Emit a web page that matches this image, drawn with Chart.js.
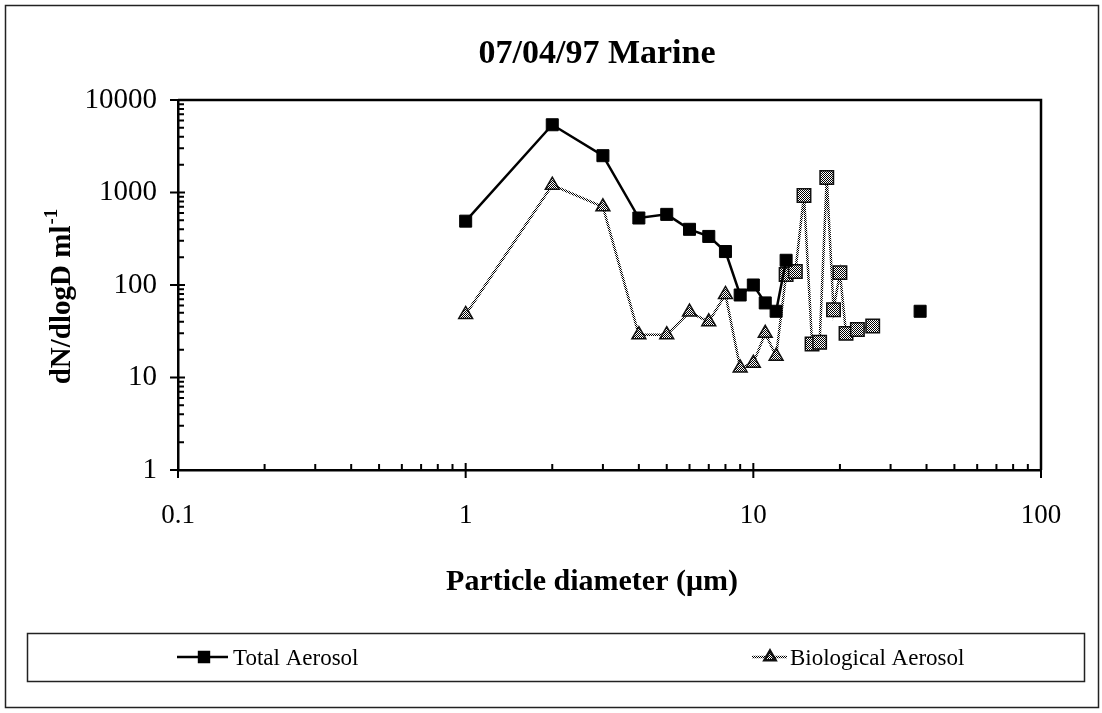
<!DOCTYPE html>
<html>
<head>
<meta charset="utf-8">
<script src="https://cdn.jsdelivr.net/npm/chart.js@4.4.0/dist/chart.umd.min.js"></script>
<style>
  html, body { margin: 0; padding: 0; background: #fff; }
  #wrap { width: 1102px; height: 713px; position: relative; }
</style>
</head>
<body>
<div id="wrap"><canvas id="chart" width="1102" height="713"></canvas></div>
<script>
// Data
const chartTitle = '07/04/97 Marine';
const xTitle = 'Particle diameter (\u03bcm)';
const yTitle = 'dN/dlogD ml';
const yTitleSup = '-1';

const totalDiam = [1, 2, 3, 4, 5, 6, 7, 8, 9, 10, 11, 12, 13, 38];
const totalConc = [490, 5400, 2500, 530, 580, 400, 335, 230, 78, 100, 64, 52, 185, 52];

const bioDiam = [1, 2, 3, 4, 5, 6, 7, 8, 9, 10, 11, 12, 13, 14, 15, 16, 17, 18, 19, 20, 21, 23, 26];
const bioConc = [48, 1200, 700, 29, 29, 51, 40, 79, 12.7, 14.3, 30, 17, 130, 140, 930, 23, 24, 1450, 54, 136, 30, 33, 36];

const xTickLabels = [0.1, 1, 10, 100];
const yTickLabels = [1, 10, 100, 1000, 10000];

const serif = "'Liberation Serif', 'Times New Roman', serif";

// 1px checker used for the grey hatched markers and the dotted line
function makePattern() {
    const c = document.createElement('canvas');
    c.width = 2; c.height = 2;
    const g = c.getContext('2d');
    g.fillStyle = '#fff';
    g.fillRect(0, 0, 2, 2);
    g.fillStyle = '#000';
    g.fillRect(0, 0, 1, 1);
    g.fillRect(1, 1, 1, 1);
    return g.createPattern(c, 'repeat');
}
const hatch = makePattern();

// log ticks 1..9 per decade
function decadeTicks(min, max) {
    const ticks = [];
    for (let e = Math.round(Math.log10(min)); e < Math.round(Math.log10(max)); e++) {
        for (let m = 1; m <= 9; m++) {
            ticks.push({ value: Number((m * Math.pow(10, e)).toPrecision(3)) });
        }
    }
    ticks.push({ value: max });
    return ticks;
}
function isDecade(v) {
    const l = Math.log10(v);
    return Math.abs(l - Math.round(l)) < 1e-9;
}

const frame = {
    id: 'frame',
    afterDraw(chart) {
        const ctx = chart.ctx;
        const a = chart.chartArea;
        const xs = chart.scales.x, ys = chart.scales.y;
        ctx.save();

        // outer frame
        ctx.strokeStyle = '#222';
        ctx.lineWidth = 1.5;
        ctx.strokeRect(5.5, 5.5, 1093, 702);

        // plot box top + right
        ctx.strokeStyle = '#000';
        ctx.lineWidth = 2.5;
        ctx.beginPath();
        ctx.moveTo(a.left, a.top);
        ctx.lineTo(a.right, a.top);
        ctx.lineTo(a.right, a.bottom);
        ctx.stroke();

        // tick marks: majors cross the axis, minors point inward
        ctx.lineWidth = 2;
        ctx.beginPath();
        xs.ticks.forEach(t => {
            const px = xs.getPixelForValue(t.value);
            if (isDecade(t.value)) {
                ctx.moveTo(px, a.bottom - 7);
                ctx.lineTo(px, a.bottom + 8);
            } else {
                ctx.moveTo(px, a.bottom);
                ctx.lineTo(px, a.bottom - 6);
            }
        });
        ys.ticks.forEach(t => {
            const py = ys.getPixelForValue(t.value);
            if (isDecade(t.value)) {
                ctx.moveTo(a.left - 8, py);
                ctx.lineTo(a.left + 7, py);
            } else {
                ctx.moveTo(a.left, py);
                ctx.lineTo(a.left + 6, py);
            }
        });
        ctx.stroke();

        // titles
        ctx.fillStyle = '#000';
        ctx.textAlign = 'center';
        ctx.textBaseline = 'alphabetic';
        ctx.font = 'bold 34px ' + serif;
        ctx.fillText(chartTitle, 597, 63);
        ctx.font = 'bold 30px ' + serif;
        ctx.fillText(xTitle, 592, 590);

        // y title, rotated, with superscript
        ctx.save();
        ctx.translate(70, 297);
        ctx.rotate(-Math.PI / 2);
        ctx.textAlign = 'left';
        ctx.font = 'bold 29px ' + serif;
        const w1 = ctx.measureText(yTitle).width;
        ctx.font = 'bold 19px ' + serif;
        const w2 = ctx.measureText(yTitleSup).width;
        const x0 = -(w1 + w2) / 2;
        ctx.font = 'bold 29px ' + serif;
        ctx.fillText(yTitle, x0, 0);
        ctx.font = 'bold 19px ' + serif;
        ctx.fillText(yTitleSup, x0 + w1 + 1, -13);
        ctx.restore();

        // legend box
        ctx.strokeStyle = '#222';
        ctx.lineWidth = 1.5;
        ctx.strokeRect(27.5, 633.5, 1057, 48);
        const ly = 657;
        const items = [
            { ds: chart.data.datasets[0], x1: 177, x2: 228, mx: 204, tx: 233 },
            { ds: chart.data.datasets[1], x1: 752, x2: 787, mx: 770, tx: 790 }
        ];
        items.forEach(it => {
            const ds = it.ds;
            ctx.strokeStyle = ds.borderColor;
            ctx.lineWidth = ds.borderWidth;
            ctx.beginPath();
            ctx.moveTo(it.x1, ly);
            ctx.lineTo(it.x2, ly);
            ctx.stroke();
            ctx.fillStyle = ds.pointBackgroundColor;
            ctx.strokeStyle = ds.pointBorderColor;
            Chart.helpers.drawPoint(ctx, {
                pointStyle: ds.legendStyle,
                radius: ds.legendRadius,
                rotation: 0,
                borderWidth: 1
            }, it.mx, ly);
            ctx.fillStyle = '#000';
            ctx.font = '23px ' + serif;
            ctx.textAlign = 'left';
            ctx.textBaseline = 'alphabetic';
            ctx.fillText(ds.label, it.tx, 665);
        });

        ctx.restore();
    }
};

const ctx = document.getElementById('chart').getContext('2d');
new Chart(ctx, {
    type: 'scatter',
    data: {
        datasets: [
            {
                label: 'Total Aerosol',
                data: totalDiam.map((d, i) => ({ x: d, y: totalConc[i] })),
                showLine: true,
                borderColor: '#000',
                borderWidth: 2.5,
                pointStyle: 'rect',
                pointRadius: 8.5,
                pointBackgroundColor: '#000',
                pointBorderColor: '#000',
                pointBorderWidth: 1,
                legendStyle: 'rect',
                legendRadius: 7,
                // last point stands alone, no line to it
                segment: {
                    borderColor: c => c.p1.parsed.x > 30 ? 'rgba(0,0,0,0)' : '#000'
                }
            },
            {
                label: 'Biological Aerosol',
                data: bioDiam.map((d, i) => ({ x: d, y: bioConc[i] })),
                showLine: true,
                borderColor: hatch,
                borderWidth: 2.5,
                pointStyle: c => (c.raw && c.raw.x >= 13) ? 'rect' : 'triangle',
                pointRadius: c => (c.raw && c.raw.x >= 13) ? 9.5 : 8,
                pointBackgroundColor: hatch,
                pointBorderColor: '#111',
                pointBorderWidth: 1.5,
                legendStyle: 'triangle',
                legendRadius: 6.5
            }
        ]
    },
    options: {
        responsive: false,
        animation: false,
        events: [],
        layout: {
            padding: { top: 100, left: 8, right: 61, bottom: 0 }
        },
        plugins: {
            legend: { display: false },
            title: { display: false },
            tooltip: { enabled: false }
        },
        scales: {
            x: {
                type: 'logarithmic',
                position: 'bottom',
                min: 0.1,
                max: 100,
                border: { display: true, color: '#000', width: 2.5 },
                grid: { display: true, drawOnChartArea: false, drawTicks: false },
                ticks: {
                    autoSkip: false,
                    maxRotation: 0,
                    padding: 30,
                    color: '#000',
                    font: { family: serif, size: 27 },
                    callback: v => xTickLabels.includes(v) ? String(v) : ''
                },
                afterBuildTicks: s => { s.ticks = decadeTicks(0.1, 100); },
                afterFit: s => { s.height = 243; s.paddingLeft = 0; s.paddingRight = 0; }
            },
            y: {
                type: 'logarithmic',
                position: 'left',
                min: 1,
                max: 10000,
                border: { display: true, color: '#000', width: 2.5 },
                grid: { display: true, drawOnChartArea: false, drawTicks: false },
                ticks: {
                    autoSkip: false,
                    padding: 21,
                    color: '#000',
                    font: { family: serif, size: 29 },
                    callback: v => yTickLabels.includes(v) ? String(v) : ''
                },
                afterBuildTicks: s => { s.ticks = decadeTicks(1, 10000); },
                afterFit: s => { s.width = 170; s.paddingTop = 0; s.paddingBottom = 0; }
            }
        }
    },
    plugins: [frame]
});
</script>
</body>
</html>
